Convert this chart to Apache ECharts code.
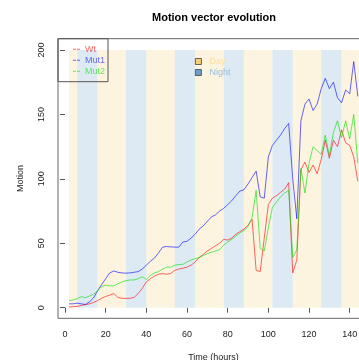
<!DOCTYPE html>
<html>
<head>
<meta charset="utf-8">
<script src="https://cdn.jsdelivr.net/npm/echarts@6/dist/echarts.min.js"></script>
<style>
html,body{margin:0;padding:0;background:#fff;}
#chart{width:359px;height:360px;}
</style>
</head>
<body>
<div id="chart"></div>
<script>
var hours = [2,4,6,8,10,12,14,16,18,20,22,24,26,28,30,32,34,36,38,40,
  42,44,46,48,50,52,54,56,58,60,62,64,66,68,70,72,74,76,78,80,
  82,84,86,88,90,92,94,96,98,100,102,104,106,108,110,112,114,116,118,120,
  122,124,126,128,130,132,134,136,138,140,142,144];
var wt = [0.5,0.8,1,1.8,2.3,3,4,5.5,7.3,8.7,9.8,11,8,7.2,7.2,7.3,8,11,15,20,
  22.5,24.5,26,26.5,26,26.5,29,30,30.6,31.5,33,35.5,39,41.5,44,46,48,50,53,52.5,
  54,57,59,61,64,68.5,29,28,54,80,85,87,89.5,92,97,27,37,107,113,105,
  110.7,104,115,130,116,130,125,138,128,126,117,98];
var mut1 = [3,3,3.5,3,2.5,4.5,7.5,13,18,22.5,27,28.5,27.5,27,26.8,27,27.5,28,30,33,
  36,38.5,42.5,47,47.5,47.2,47,47,51,51.5,54,57,61,63.5,67,70.5,72,75,77,80,
  83,87,90.5,91.5,96,101,106,86,85,117,126,130,134,139,143,100,69,145,158,162,
  153,158,170,178,170,175,163,159,169,166,191,164];
var mut2 = [5.5,6,7,8.5,7.8,9,10.4,13,16.5,17.5,17,17,18.5,20,21,21.5,21.5,22.5,24,22,
  25,27,28,30,31.4,31.4,33,33.5,33.7,35.5,37,38,39,40.5,42,43,44,45,48.5,51,
  53,55.5,58,60,63,70,91,46,44,62,78,82,86,89,91,39,45,108,89,112,
  125,122,119,134,118,136,145,132,145,131,150,112];
var dayStart = [2,16,40,64,88,112,136];
var dayEnd = [6,30,54,78,102,126,150];
var nightStart = [6,30,54,78,102,126];
var nightEnd = [16,40,64,88,112,136];
var stripeTop = 200;
var xTicks = [0,20,40,60,80,100,120,140];
var yTicks = [0,50,100,150,200];
var seriesNames = ['Wt','Mut1','Mut2'];
var seriesColors = ['rgba(255,0,0,0.6)','rgba(0,0,255,0.6)','rgba(0,220,0,0.6)'];
var seriesValues = [wt, mut1, mut2];

function pairs(vals){ return hours.map(function(h,i){ return [h, vals[i]]; }); }
function areas(starts, ends){
  return starts.map(function(s,i){ return [{xAxis:s, yAxis:0},{xAxis:ends[i], yAxis:stripeTop}]; });
}

var chart = echarts.init(document.getElementById('chart'), null, {renderer:'canvas'});
var FONT = 'Liberation Sans, Arial, Helvetica, sans-serif';
var series = [
  {name:'Day', type:'line', data:[], z:1, itemStyle:{color:'#F6CF74'}, lineStyle:{color:'#F6CF74'},
   markArea:{silent:true, itemStyle:{color:'#FDF4E0'}, data:areas(dayStart, dayEnd)}},
  {name:'Night', type:'line', data:[], z:1, itemStyle:{color:'#6E9DCB'}, lineStyle:{color:'#6E9DCB'},
   markArea:{silent:true, itemStyle:{color:'#DEEAF3'}, data:areas(nightStart, nightEnd)}}
];
seriesNames.forEach(function(n,i){
  series.push({name:n, type:'line', data:pairs(seriesValues[i]), symbol:'none', z:3,
    lineStyle:{color:seriesColors[i], width:1}, itemStyle:{color:seriesColors[i]}, animation:false});
});

chart.setOption({
  animation:false,
  backgroundColor:'#fff',
  title:{text:'Motion vector evolution', left:152, top:12, padding:0,
    textStyle:{fontFamily:FONT, fontSize:11, fontWeight:'bold', color:'#000'}},
  grid:{left:58, top:38.7, right:-10, bottom:41.7, outerBoundsMode:'none', containLabel:false,
    show:true, borderColor:'#666', borderWidth:1, backgroundColor:'transparent'},
  xAxis:{type:'value', min:-3.44, max:149.5,
    name:'Time (hours)', nameLocation:'middle', nameGap:35,
    nameTextStyle:{fontFamily:FONT, fontSize:9, color:'#222'},
    axisLine:{show:false},
    splitLine:{show:false},
    axisTick:{show:true, length:5, lineStyle:{color:'#555'}, customValues:xTicks},
    axisLabel:{fontFamily:FONT, fontSize:9, color:'#222', margin:12, customValues:xTicks}},
  yAxis:{type:'value', min:-8.23, max:208.77,
    name:'Motion', nameLocation:'middle', nameGap:33, nameRotate:90,
    nameTextStyle:{fontFamily:FONT, fontSize:9, color:'#222'},
    axisLine:{show:false},
    splitLine:{show:false},
    axisTick:{show:true, length:5, lineStyle:{color:'#555'}, customValues:yTicks},
    axisLabel:{fontFamily:FONT, fontSize:9, color:'#222', margin:12, rotate:90, customValues:yTicks}},
  legend:[
    {data:seriesNames.map(function(n,i){ return {name:n, textStyle:{color:seriesColors[i]}}; }),
     orient:'vertical', left:58, top:38.7, padding:[6,3,6,15], itemGap:2,
     itemWidth:7, itemHeight:1, icon:'path://M0,0h3v1h-3z M4,0h3v1h-3z',
     borderColor:'#555', borderWidth:1, selectedMode:false,
     textStyle:{fontFamily:FONT, fontSize:9}},
    {data:[{name:'Day', textStyle:{color:'#FFDC9A'}},{name:'Night', textStyle:{color:'#96BEE0'}}],
     orient:'vertical', left:195, top:57, padding:0, itemGap:2,
     itemWidth:6, itemHeight:6, icon:'rect', selectedMode:false,
     itemStyle:{borderColor:'#444', borderWidth:0.8},
     textStyle:{fontFamily:FONT, fontSize:9, padding:[0,0,0,3]}}
  ],
  series:series
});
</script>
</body>
</html>
